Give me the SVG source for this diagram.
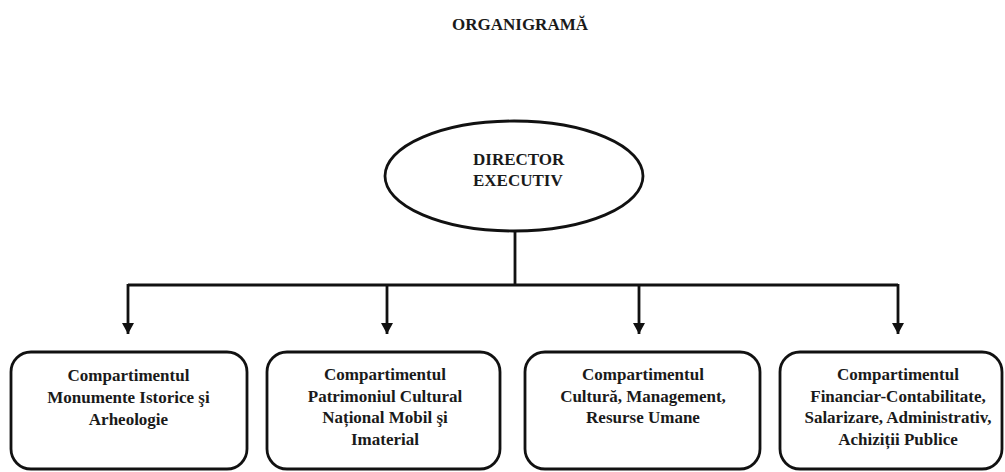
<svg xmlns="http://www.w3.org/2000/svg" width="1005" height="472" viewBox="0 0 1005 472">
<style>
  text { font-family: "Liberation Serif", "Times New Roman", serif; font-weight: bold; font-size: 17px; fill: #1a1a1a; }
  .c { text-anchor: middle; }
  .box { fill: #ffffff; stroke: #111; stroke-width: 2.8; }
  .ln { fill: none; stroke: #111; stroke-width: 2.8; }
</style>
<defs>
  <marker id="arr" markerUnits="userSpaceOnUse" markerWidth="12" markerHeight="12" viewBox="0 0 12 12" refX="11" refY="6" orient="auto">
    <polygon points="0,0 11,6 0,12" fill="#111"/>
  </marker>
</defs>
<rect width="1005" height="472" fill="#ffffff"/>
<text class="c" x="520" y="30">ORGANIGRAMĂ</text>

<g id="director">
  <ellipse cx="514" cy="176" rx="129" ry="55" class="box"/>
  <text x="473" y="165">DIRECTOR</text>
  <text x="473" y="186">EXECUTIV</text>
</g>

<g id="connectors">
  <path class="ln" d="M515,231 V285 M128,285 H898"/>
  <path class="ln" d="M128,284 V334" marker-end="url(#arr)"/>
  <path class="ln" d="M387,285 V334" marker-end="url(#arr)"/>
  <path class="ln" d="M639,285 V334" marker-end="url(#arr)"/>
  <path class="ln" d="M898,284 V334" marker-end="url(#arr)"/>
</g>

<g id="comp1">
  <rect x="11" y="352" width="236" height="117" rx="20" class="box"/>
  <text class="c" x="128.5" y="381">Compartimentul</text>
  <text class="c" x="128.5" y="403">Monumente Istorice şi</text>
  <text class="c" x="128.5" y="425">Arheologie</text>
</g>

<g id="comp2">
  <rect x="267" y="352" width="233" height="117" rx="20" class="box"/>
  <text class="c" x="385" y="380">Compartimentul</text>
  <text class="c" x="385" y="402">Patrimoniul Cultural</text>
  <text class="c" x="385" y="423">Național Mobil şi</text>
  <text class="c" x="385" y="445">Imaterial</text>
</g>

<g id="comp3">
  <rect x="525" y="352" width="235" height="117" rx="20" class="box"/>
  <text class="c" x="643" y="380">Compartimentul</text>
  <text class="c" x="643" y="402">Cultură, Management,</text>
  <text class="c" x="643" y="423">Resurse Umane</text>
</g>

<g id="comp4">
  <rect x="780" y="352" width="222" height="117" rx="20" class="box"/>
  <text class="c" x="898" y="380">Compartimentul</text>
  <text class="c" x="898" y="402">Financiar-Contabilitate,</text>
  <text class="c" x="898" y="423">Salarizare, Administrativ,</text>
  <text class="c" x="898" y="445">Achiziții Publice</text>
</g>
</svg>
